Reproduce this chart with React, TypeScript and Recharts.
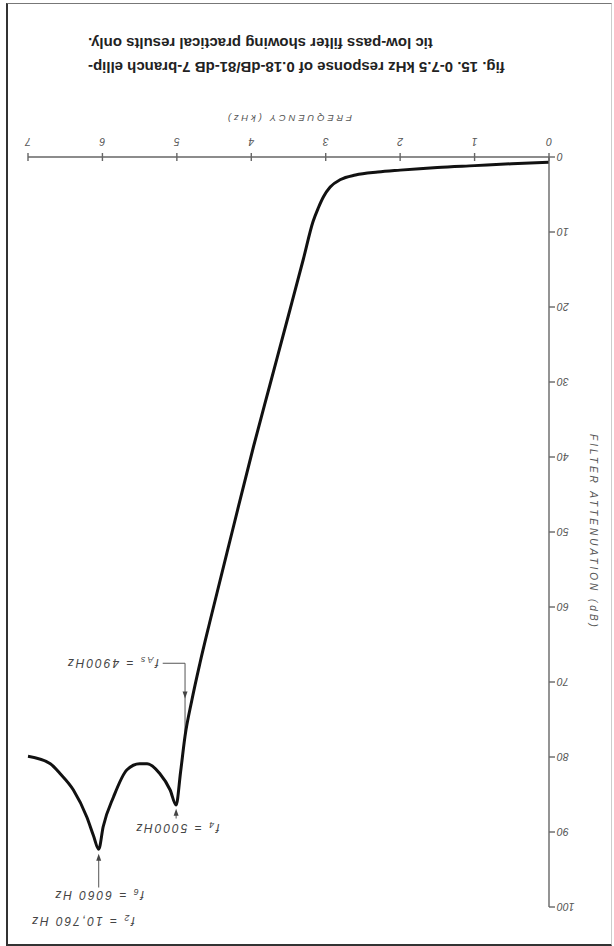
import React from "react";
import { LineChart, Line, XAxis, YAxis, ReferenceLine, ReferenceDot, Label } from "recharts";

// measured response (frequency in kHz, attenuation in dB)
const freqKHz = [0, 0.5, 1.0, 1.5, 2.0, 2.3, 2.6, 2.8, 2.94, 3.03, 3.1, 3.17, 3.3, 3.5, 3.75, 3.97, 4.25, 4.55, 4.69, 4.8, 4.89, 4.95, 5.01, 5.09, 5.23, 5.4, 5.5, 5.67, 5.85, 5.99, 6.05, 6.12, 6.21, 6.39, 6.57, 6.7, 7.0];
const attenDb = [0.7, 0.9, 1.15, 1.4, 1.75, 2.0, 2.4, 3.0, 4.0, 5.3, 6.8, 8.6, 13.6, 21.1, 30.4, 38.6, 49.7, 61.7, 67.5, 72.5, 77.2, 82.0, 86.4, 84.4, 82.2, 80.9, 80.9, 81.7, 85.3, 89.3, 92.3, 90.5, 88.0, 84.4, 82.2, 80.9, 79.9];

const freqTicks = [0, 1, 2, 3, 4, 5, 6, 7];
const attenTicks = [0, 10, 20, 30, 40, 50, 60, 70, 80, 90, 100];

const captionLines = [
  "fig. 15. 0-7.5 kHz response of 0.18-dB/81-dB 7-branch ellip-",
  "tic low-pass filter showing practical results only.",
];

// annotations: position in kHz / dB, text as f + subscript + rest
const notes = [
  { f: 6.27, a: 101.9, sub: "2", rest: " = 10,760 Hz", anchor: "middle" },
  { f: 6.05, a: 98.4, sub: "6", rest: " = 6060 Hz", anchor: "middle" },
  { f: 5.0, a: 89.5, sub: "4", rest: " = 5000Hz", anchor: "middle" },
  { f: 5.19, a: 67.5, sub: "As", rest: " = 4900Hz", anchor: "start" },
];

const data = freqKHz.map((f, i) => ({ f, a: attenDb[i] }));

const W = 614;
const H = 946;
const sans = "'Liberation Sans', Arial, sans-serif";
const grey = "#666";

function XTick({ x, y, payload }: any) {
  return (
    <g>
      <line x1={x} y1={y - 4} x2={x} y2={y + 4} stroke={grey} strokeWidth={1.4} />
      <text x={x} y={y + 15} textAnchor="middle" dominantBaseline="central" fontFamily={sans} fontStyle="italic" fontSize={10.5} fill="#555">
        {payload.value}
      </text>
    </g>
  );
}

function YTick({ x, y, payload }: any) {
  return (
    <g>
      <line x1={x - 6} y1={y} x2={x} y2={y} stroke={grey} strokeWidth={1.4} />
      <text x={x - 8} y={y} textAnchor="end" dominantBaseline="central" fontFamily={sans} fontStyle="italic" fontSize={10.5} fill="#555">
        {payload.value}
      </text>
    </g>
  );
}

function XTitle(props: any) {
  const vb = props.viewBox || { x: 65, y: 789, width: 521, height: 50 };
  return (
    <text x={vb.x + vb.width / 2} y={vb.y + 39} textAnchor="middle" dominantBaseline="central" fontFamily={sans} fontStyle="italic" fontSize={9.5} letterSpacing={2.8} fill="#555">
      FREQUENCY (kHz)
    </text>
  );
}

function YTitle(props: any) {
  const vb = props.viewBox || { x: 20, y: 39, width: 45, height: 750 };
  const cx = vb.x + 1;
  const cy = vb.y + vb.height / 2;
  return (
    <text x={cx} y={cy} transform={`rotate(-90 ${cx} ${cy})`} textAnchor="middle" dominantBaseline="central" fontFamily={sans} fontStyle="italic" fontSize={10} letterSpacing={3} fill="#555">
      FILTER ATTENUATION (dB)
    </text>
  );
}

const noteShape = (n: any) => (p: any) => {
  const dx = n.anchor === "start" ? 4 : 0;
  return (
    <text x={p.cx + dx} y={p.cy} textAnchor={n.anchor} dominantBaseline="central" fontFamily={sans} fontStyle="italic" fontSize={12} letterSpacing={2} fill="#444">
      f<tspan fontSize={9} dy={3}>{n.sub}</tspan>
      <tspan dy={-3}>{n.rest}</tspan>
    </text>
  );
};

// dir 1: tip points down on the svg, -1: up
const arrowHead = (dir: number) => (p: any) => (
  <path d={`M${p.cx},${p.cy} l-2.5,${-dir * 7} l5,0 z`} fill="#444" />
);

export default function App() {
  return (
    <div style={{ position: "fixed", left: 0, top: 0, width: W, height: H, background: "#fff" }}>
      <div style={{ position: "absolute", left: 0, top: 0, width: W, height: H, transform: "rotate(180deg)" }}>
        <LineChart width={W} height={H} data={data} margin={{ top: 39, right: 28, bottom: 107, left: 20 }}>
          <XAxis
            dataKey="f"
            type="number"
            domain={[0, 7]}
            ticks={freqTicks}
            tick={<XTick />}
            tickLine={false}
            tickSize={0}
            tickMargin={0}
            height={50}
            axisLine={{ stroke: grey, strokeWidth: 1.4 }}
          >
            <Label content={XTitle} />
          </XAxis>
          <YAxis
            type="number"
            domain={[0, 100]}
            ticks={attenTicks}
            tick={<YTick />}
            tickLine={false}
            tickSize={0}
            tickMargin={0}
            width={45}
            axisLine={{ stroke: grey, strokeWidth: 1.4 }}
          >
            <Label content={YTitle} />
          </YAxis>

          {/* f6 pointer */}
          <ReferenceLine segment={[{ x: 6.05, y: 93.5 }, { x: 6.05, y: 97.4 }]} stroke="#555" strokeWidth={1} ifOverflow="visible" />
          <ReferenceDot x={6.05} y={92.9} ifOverflow="visible" shape={arrowHead(1)} />
          {/* f4 pointer */}
          <ReferenceLine segment={[{ x: 5.01, y: 87.4 }, { x: 5.01, y: 88.2 }]} stroke="#555" strokeWidth={1} ifOverflow="visible" />
          <ReferenceDot x={5.01} y={86.9} ifOverflow="visible" shape={arrowHead(1)} />
          {/* fAs pointer */}
          <ReferenceLine segment={[{ x: 4.89, y: 67.5 }, { x: 5.19, y: 67.5 }]} stroke="#555" strokeWidth={1} ifOverflow="visible" />
          <ReferenceLine segment={[{ x: 4.89, y: 67.5 }, { x: 4.89, y: 76.8 }]} stroke="#555" strokeWidth={1} ifOverflow="visible" />
          <ReferenceDot x={4.89} y={72.2} ifOverflow="visible" shape={arrowHead(-1)} />

          {notes.map((n, i) => (
            <ReferenceDot key={i} x={n.f} y={n.a} ifOverflow="visible" shape={noteShape(n)} />
          ))}

          <Line
            type="monotone"
            dataKey="a"
            stroke="#111"
            strokeWidth={3}
            dot={false}
            activeDot={false}
            isAnimationActive={false}
          />
        </LineChart>
        <div
          style={{
            position: "absolute",
            left: 0,
            width: 526,
            top: 867,
            textAlign: "right",
            fontFamily: sans,
            fontWeight: 700,
            fontSize: 15,
            lineHeight: "24px",
            color: "#222",
            whiteSpace: "nowrap",
          }}
        >
          {captionLines.map((t, i) => (
            <div key={i}>{t}</div>
          ))}
        </div>
      </div>
      <div
        style={{
          position: "absolute",
          left: 6,
          top: 3,
          width: W - 8,
          height: H - 3,
          boxSizing: "border-box",
          borderLeft: "2px solid #333",
          borderTop: "1.5px solid #777",
          borderBottom: "2px solid #333",
          borderRight: "1px solid #ccc",
          pointerEvents: "none",
        }}
      />
    </div>
  );
}
